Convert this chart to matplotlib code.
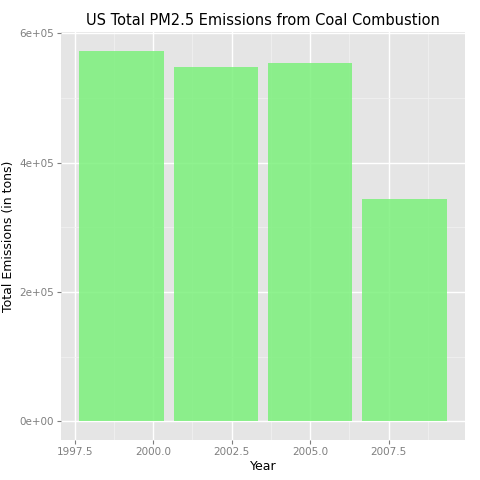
import matplotlib
matplotlib.use('Agg')
import matplotlib.pyplot as plt

years = [1999, 2002, 2005, 2008]
emissions = [573000, 548500, 555000, 344000]

fig = plt.figure(figsize=(4.8, 4.8), dpi=100)
ax = fig.add_axes([61/480, 40/480, 404/480, 408/480])
ax.set_facecolor('#E5E5E5')
ax.bar(years, emissions, width=2.7, color='#7CF07C', alpha=0.85, zorder=3)

ax.set_xlim(1997.065, 2009.935)
ax.set_ylim(-28700, 602300)
xt = [1997.5, 2000.0, 2002.5, 2005.0, 2007.5]
ax.set_xticks(xt)
ax.set_xticklabels(['%.1f' % v for v in xt])
ax.set_xticks([1998.75, 2001.25, 2003.75, 2006.25, 2008.75], minor=True)
yt = [0, 200000, 400000, 600000]
ax.set_yticks(yt)
ax.set_yticklabels(['0e+00', '2e+05', '4e+05', '6e+05'])
ax.set_yticks([100000, 300000, 500000], minor=True)
ax.grid(which='major', color='white', linewidth=1.0, zorder=0)
ax.grid(which='minor', color='#F2F2F2', linewidth=0.5, zorder=0)
for s in ax.spines.values():
    s.set_visible(False)
ax.tick_params(which='major', colors='#7F7F7F', labelsize=7.5, length=3, pad=2)
ax.tick_params(which='minor', length=0)
for lab in ax.get_xticklabels() + ax.get_yticklabels():
    lab.set_color('#7F7F7F')

ax.set_xlabel('Year', fontsize=9, labelpad=2)
ax.set_ylabel('Total Emissions (in tons)', fontsize=9, labelpad=3)
ax.set_title('US Total PM2.5 Emissions from Coal Combustion', fontsize=10.5, pad=5)

fig.savefig('out.png', dpi=100)
